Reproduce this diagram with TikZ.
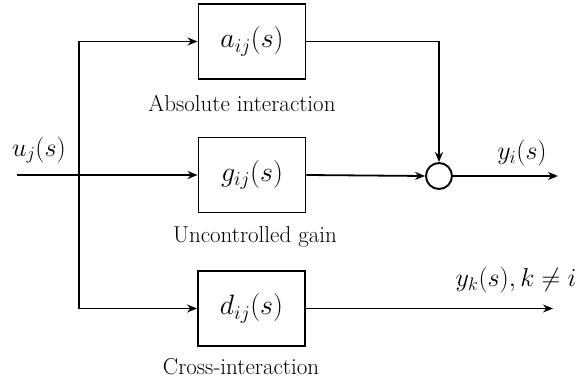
\documentclass[tikz,border=0pt]{standalone}
\usepackage{fix-cm}
\usetikzlibrary{arrows.meta}
\begin{document}
\begin{tikzpicture}[x=1pt,y=-1pt,
  blk/.style={draw,line width=1.9pt,minimum width=107pt,minimum height=75pt,inner sep=0pt,
    font=\fontsize{28}{32}\selectfont},
  sumc/.style={draw,circle,line width=1.9pt,minimum size=26pt,inner sep=0pt},
  wire/.style={line width=1.8pt},
  arr/.style={wire,-{Stealth[length=10pt,width=8pt]}},
  caption/.style={font=\fontsize{23}{26}\selectfont},
  sig/.style={font=\fontsize{26}{30}\selectfont}]
\useasboundingbox (0,0) rectangle (584,382);

% blocks
\node[blk] (a) at (252,41.5) {$a_{ij}(s)$};
\node[blk] (g) at (252,175) {$g_{ij}(s)$};
\node[blk] (d) at (251.5,308.5) {$d_{ij}(s)$};
\node[sumc] (sum) at (439,176) {};

% signal points
\coordinate (in) at (17,175);
\coordinate (br) at (79,175);
\coordinate (out) at (558,176);
\coordinate (yk) at (553,308.5);

% connections
\draw[arr] (in) -- (g.west);
\draw[arr] (br) |- (a.west);
\draw[arr] (br) |- (d.west);
\draw[arr] (a.east) -| (sum.north);
\draw[arr] (g.east) -- (sum.west);
\draw[arr] (sum.east) -- (out);
\draw[arr] (d.east) -- (yk);

% signal names
\node[sig] (uj) at (39,150) {$u_j(s)$};
\node[sig] (yi) at (522,153) {$y_i(s)$};
\node[sig] (ykl) at (516,280) {$y_k(s), k \neq i$};

% block captions
\node[caption] (ca) at (242,103) {Absolute interaction};
\node[caption] (cg) at (255,237) {Uncontrolled gain};
\node[caption] (cd) at (241,367) {Cross-interaction};
\end{tikzpicture}
\end{document}
